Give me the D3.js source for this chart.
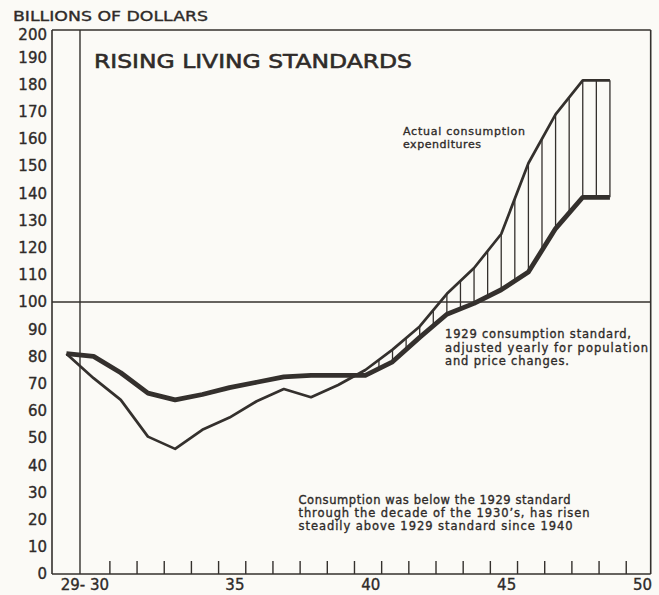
<!DOCTYPE html>
<html><head><meta charset="utf-8">
<script src="https://cdn.jsdelivr.net/npm/d3@7"></script>
<style>
html,body{margin:0;padding:0;background:#fbfaf6;}
svg{display:block;}
text{font-family:"DejaVu Sans",sans-serif;fill:#2f2b29;stroke:#2f2b29;stroke-width:0.35px;}
</style></head><body>
<svg id="c" width="659" height="595"></svg>
<script>
// ---------- data ----------
const years = [1929,1930,1931,1932,1933,1934,1935,1936,1937,1938,1939,1940,1941,1942,1943,1944,1945,1946,1947,1948,1949];
const actualConsumption = [81,72,64,50.5,46,53,57.5,63.5,68,65,69.5,75,82.5,91,103,112.5,125,151,169,181.5,181.5];
const standard1929 = [81,80,74,66.5,64,66,68.5,70.5,72.5,73,73,73,78,87,95.5,99.5,104.5,111,127,138.5,138.5];
const yTickValues = [0,10,20,30,40,50,60,70,80,90,100,110,120,130,140,150,160,170,180,190,200];
const xTickYears = [1930,1931,1932,1933,1934,1935,1936,1937,1938,1939,1940,1941,1942,1943,1944,1945,1946,1947,1948,1949];
const xLabelYears = [1935,1940,1945,1950];
const xLabelTexts = ["35","40","45","50"];
const firstYearLabel = "29- 30";
const titleText = "RISING LIVING STANDARDS";
const unitText = "BILLIONS OF DOLLARS";
const noteActual = ["Actual consumption","expenditures"];
const noteStandard = ["1929 consumption standard,","adjusted yearly for population","and price changes."];
const noteBottom = ["Consumption was below the 1929 standard","through the decade of the 1930\u2019s, has risen","steadily above 1929 standard since 1940"];

// ---------- drawing ----------
const ink = "#34302d";
const svg = d3.select("#c");
const x = d3.scaleLinear().domain([1928.47, 1950.5]).range([52, 650.7]);
const y = d3.scaleLinear().domain([0, 200]).range([574, 30]);

const series = years.map((yr,i)=>({year:yr, a:actualConsumption[i], s:standard1929[i]}));

// frame
const g = svg.append("g").attr("stroke", ink).attr("fill","none");
g.append("line").attr("x1",x(1928.47)).attr("x2",x(1928.47)).attr("y1",y(0)).attr("y2",y(200)).attr("stroke-width",1.6);
g.append("line").attr("x1",x(1928.47)).attr("x2",x(1950.5)).attr("y1",y(200)).attr("y2",y(200)).attr("stroke-width",1.6);
g.append("line").attr("x1",x(1950.5)).attr("x2",x(1950.5)).attr("y1",y(0)).attr("y2",y(200)).attr("stroke-width",1.6);
g.append("line").attr("x1",x(1928.47)).attr("x2",x(1950.5)).attr("y1",y(0)).attr("y2",y(0)).attr("stroke-width",1.6);
// 100 reference line
g.append("line").attr("x1",x(1928.47)).attr("x2",x(1950.5)).attr("y1",y(100)).attr("y2",y(100)).attr("stroke-width",1.5);
// 1929-30 divider
g.append("line").attr("x1",x(1929.5)).attr("x2",x(1929.5)).attr("y1",y(0)).attr("y2",y(200)).attr("stroke-width",1.4);
// ticks
g.selectAll("line.tick").data(xTickYears).join("line").attr("class","tick")
  .attr("x1",d=>x(d+0.6)).attr("x2",d=>x(d+0.6)).attr("y1",y(0)).attr("y2",y(0)-13).attr("stroke-width",1.4);

// hatching between lines
const aAt = d3.scaleLinear().domain(years).range(actualConsumption);
const sAt = d3.scaleLinear().domain(years).range(standard1929);
const hatchYears = d3.range(1940.5, 1949.01, 0.5);
g.selectAll("line.hatch").data(hatchYears).join("line").attr("class","hatch")
  .attr("x1",d=>x(d)).attr("x2",d=>x(d)).attr("y1",d=>y(aAt(d))).attr("y2",d=>y(sAt(d))).attr("stroke-width",1.3);

// lines
g.append("path").datum(series).attr("d", d3.line().x(d=>x(d.year)).y(d=>y(d.a)))
  .attr("stroke-width",2.7).attr("stroke-linejoin","round");
g.append("path").datum(series).attr("d", d3.line().x(d=>x(d.year)).y(d=>y(d.s)))
  .attr("stroke-width",4.8).attr("stroke-linejoin","round");

// y labels
svg.selectAll("text.yl").data(yTickValues).join("text").attr("class","yl")
  .attr("x",47).attr("y",d=>y(d) + (d===200 ? 5 : 0)).attr("dy","0.36em").attr("text-anchor","end")
  .attr("font-size",15).text(d=>d);

// x labels
svg.selectAll("text.xl").data(xLabelYears).join("text").attr("class","xl")
  .attr("x",d=>x(d+0.2)).attr("y",590).attr("text-anchor","middle").attr("font-size",15)
  .text((d,i)=>xLabelTexts[i]);
svg.append("text").attr("x",x(1929.68)).attr("y",590).attr("text-anchor","middle").attr("font-size",15).text(firstYearLabel);

// titles
svg.append("text").attr("x",13).attr("y",20.5).attr("font-size",13.5)
  .attr("textLength",195).attr("lengthAdjust","spacingAndGlyphs").text(unitText);
svg.append("text").attr("x",94).attr("y",68).attr("font-size",20).style("stroke-width","0.6px")
  .attr("textLength",318).attr("lengthAdjust","spacingAndGlyphs").text(titleText);

function note(lines, x0, y0, lh, fs, lens){
  svg.selectAll(null).data(lines).join("text")
    .attr("x",x0).attr("y",(d,i)=>y0+i*lh).attr("font-size",fs)
    .attr("textLength",(d,i)=>lens[i]).attr("lengthAdjust","spacing").text(d=>d);
}
note(noteActual, 403, 135, 12.5, 11, [122, 78]);
note(noteStandard, 445, 338, 13.5, 11.5, [186, 203, 124]);
note(noteBottom, 298.5, 503.5, 13.3, 11.5, [272, 291, 274]);
</script>
</body></html>
